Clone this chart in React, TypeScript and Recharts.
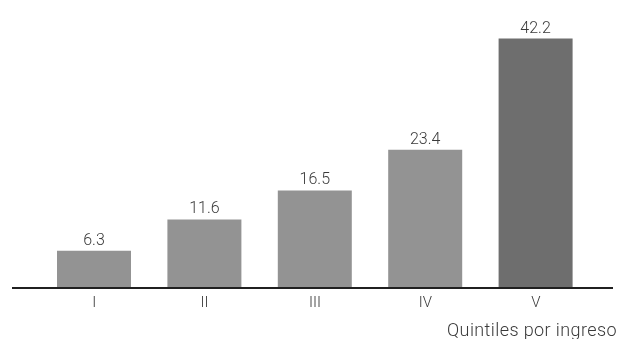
import React from 'react';
import { BarChart, Bar, XAxis, YAxis, Cell, LabelList } from 'recharts';

const quintiles = ['I', 'II', 'III', 'IV', 'V'];
const shares = [6.3, 11.6, 16.5, 23.4, 42.2];
const barColors = ['#939396', '#939396', '#939396', '#939396', '#6d6e70'];

const data = quintiles.map((q, i) => ({ quintil: q, share: shares[i] }));

const font = 'Roboto, "Liberation Sans", Arial, sans-serif';
const textColor = '#3a3a3a';

const QuintilTick = (props: any) => {
  const { x, y, payload } = props;
  return (
    <text
      x={x}
      y={y + 11}
      textAnchor="middle"
      fontSize={15}
      fontWeight={300}
      fontFamily={font}
      fill={textColor}
    >
      {payload.value}
    </text>
  );
};

const AxisTitle = (props: any) => {
  const vb = props.viewBox || {};
  return (
    <text
      x={vb.x + vb.width + 4}
      y={vb.y + 48}
      textAnchor="end"
      fontSize={18}
      fontWeight={300}
      letterSpacing={0.4}
      fontFamily={font}
      fill={textColor}
    >
      Quintiles por ingreso
    </text>
  );
};

const App: React.FC = () => {
  return (
    // the whole chart is gray; the filter keeps text antialiasing gray too
    <div style={{ position: 'absolute', left: 0, top: 0, background: '#fff', filter: 'grayscale(1)' }}>
      <BarChart
        width={618}
        height={339}
        data={data}
        margin={{ top: 22, right: 5, bottom: 0, left: 12 }}
      >
        <XAxis
          dataKey="quintil"
          height={51}
          padding={{ left: 27, right: 22 }}
          tickLine={false}
          axisLine={{ stroke: '#231f20', strokeWidth: 2 }}
          tick={<QuintilTick />}
          interval={0}
          label={<AxisTitle />}
        />
        <YAxis hide domain={[0, 45]} />
        <Bar dataKey="share" barSize={74} isAnimationActive={false}>
          {data.map((d, i) => (
            <Cell key={d.quintil} fill={barColors[i]} />
          ))}
          <LabelList
            dataKey="share"
            position="top"
            offset={6}
            fill={textColor}
            fontSize={16}
            fontWeight={300}
            fontFamily={font}
          />
        </Bar>
      </BarChart>
    </div>
  );
};

export default App;
